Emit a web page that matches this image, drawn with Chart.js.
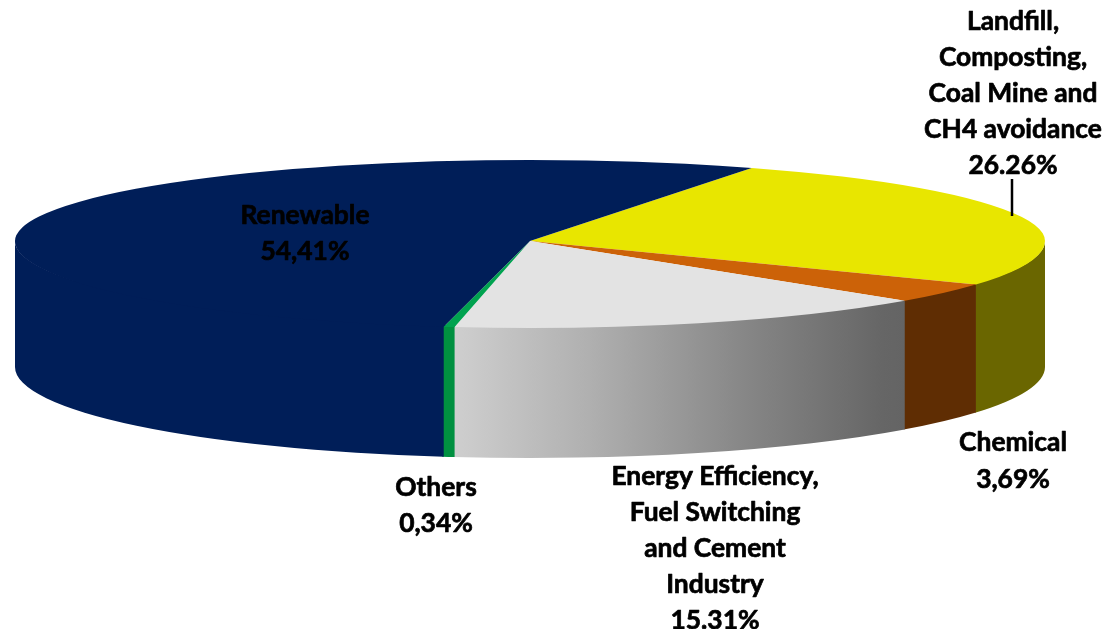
<!DOCTYPE html>
<html>
<head>
<meta charset="utf-8">
<style>
  html, body { margin: 0; padding: 0; background: #fff; overflow: hidden; }
  canvas { display: block; }
</style>
<script src="https://cdn.jsdelivr.net/npm/chart.js@4"></script>
</head>
<body>
<canvas id="pie" width="1115" height="629"></canvas>
<script>
// slices, clockwise from the Landfill wedge
var categories = ['Landfill, Composting, Coal Mine and CH4 avoidance', 'Chemical', 'Energy Efficiency, Fuel Switching and Cement Industry', 'Others', 'Renewable'];
var shares = [26.26, 3.69, 15.31, 0.34, 54.41];
var topColors = ['#e8e600', '#cc6208', '#e3e3e3', '#00a24f', '#001e58'];
var wallColors = ['#6a6600', '#5f2d03', null, '#009040', '#001e58'];
var greyWallStops = [[0, '#cfcfcf'], [0.3, '#b0b0b0'], [0.65, '#868686'], [0.95, '#666666'], [1, '#646464']];

// label text per line, with where each block sits
var labelLines = [
  ['Landfill,', 'Composting,', 'Coal Mine and', 'CH4 avoidance', '26.26%'],
  ['Chemical', '3,69%'],
  ['Energy Efficiency,', 'Fuel Switching', 'and Cement', 'Industry', '15.31%'],
  ['Others', '0,34%'],
  ['Renewable', '54,41%']
];
var labelX = [1013, 1013, 715, 436, 305];
var labelY = [21, 442, 476, 487, 215];
var lineGap = [36, 37, 36, 36, 36];

// fake 3d: top face is squashed more above the centre than below it
var view = { cx: 530, cy: 241, rx: 515, ryBack: 81, ryFront: 87, floorCy: 367, floorRy: 91 };
var FONT = '700 26.4px Lato, "Open Sans", sans-serif';

function drawFace(ctx, arcs, ry, clipY, clipH) {
  ctx.save();
  ctx.beginPath(); ctx.rect(0, clipY, 1115, clipH); ctx.clip();
  arcs.forEach(function (a) {
    ctx.save();
    ctx.translate(view.cx, view.cy);
    ctx.scale(view.rx / a.outerRadius, ry / a.outerRadius);
    ctx.translate(-a.x, -a.y);
    a.draw(ctx);
    ctx.restore();
  });
  ctx.restore();
}

function wallPiece(ctx, s, e, color) {
  var x0 = view.cx + view.rx * Math.cos(e), x1 = view.cx + view.rx * Math.cos(s);
  var fill = color;
  if (!fill) {
    fill = ctx.createLinearGradient(x0, 0, x1, 0);
    greyWallStops.forEach(function (st) { fill.addColorStop(st[0], st[1]); });
  }
  // wall starts a little under the top face so no white seam shows along the rim
  ctx.beginPath();
  ctx.ellipse(view.cx, view.cy, view.rx, view.ryFront - 2, 0, s, e);
  ctx.ellipse(view.cx, view.floorCy, view.rx, view.floorRy, 0, e, s, true);
  ctx.closePath();
  ctx.fillStyle = fill;
  ctx.fill();
}

// side walls only show on the front half, angles 0..PI on the canvas
function drawWalls(ctx, arcs) {
  arcs.forEach(function (a, i) {
    [0, 2 * Math.PI, -2 * Math.PI].forEach(function (k) {
      var s = Math.max(a.startAngle, k), e = Math.min(a.endAngle + 0.003, k + Math.PI);
      if (e > s) wallPiece(ctx, s, e, wallColors[i]);
    });
  });
}

var pie3d = {
  id: 'pie3d',
  beforeDatasetsDraw: function (ch) {
    var ctx = ch.ctx, arcs = ch.getDatasetMeta(0).data;
    drawWalls(ctx, arcs);
    drawFace(ctx, arcs, view.ryBack, 0, view.cy);
    drawFace(ctx, arcs, view.ryFront, view.cy, 629 - view.cy);
    return false;
  },
  afterDraw: function (ch) {
    var ctx = ch.ctx;
    ctx.save();
    // leader line of the Landfill label
    ctx.strokeStyle = '#000'; ctx.lineWidth = 2.5;
    ctx.beginPath(); ctx.moveTo(1012, 179); ctx.lineTo(1012, 216); ctx.stroke();
    ctx.font = FONT; ctx.fillStyle = '#000'; ctx.textAlign = 'center'; ctx.textBaseline = 'middle';
    ctx.lineWidth = 0.7; ctx.lineJoin = 'round';
    labelLines.forEach(function (lines, i) {
      lines.forEach(function (t, j) {
        var y = labelY[i] + j * lineGap[i];
        ctx.fillText(t, labelX[i], y);
        ctx.strokeText(t, labelX[i], y); // source font is heavier than Lato bold
      });
    });
    ctx.restore();
  }
};

new Chart(document.getElementById('pie').getContext('2d'), {
  type: 'pie',
  data: { labels: categories, datasets: [{ data: shares, backgroundColor: topColors, borderWidth: 0 }] },
  options: {
    responsive: false,
    animation: false,
    rotation: 25.5,
    events: [],
    plugins: { legend: { display: false }, tooltip: { enabled: false } }
  },
  plugins: [pie3d]
});
</script>
</body>
</html>
